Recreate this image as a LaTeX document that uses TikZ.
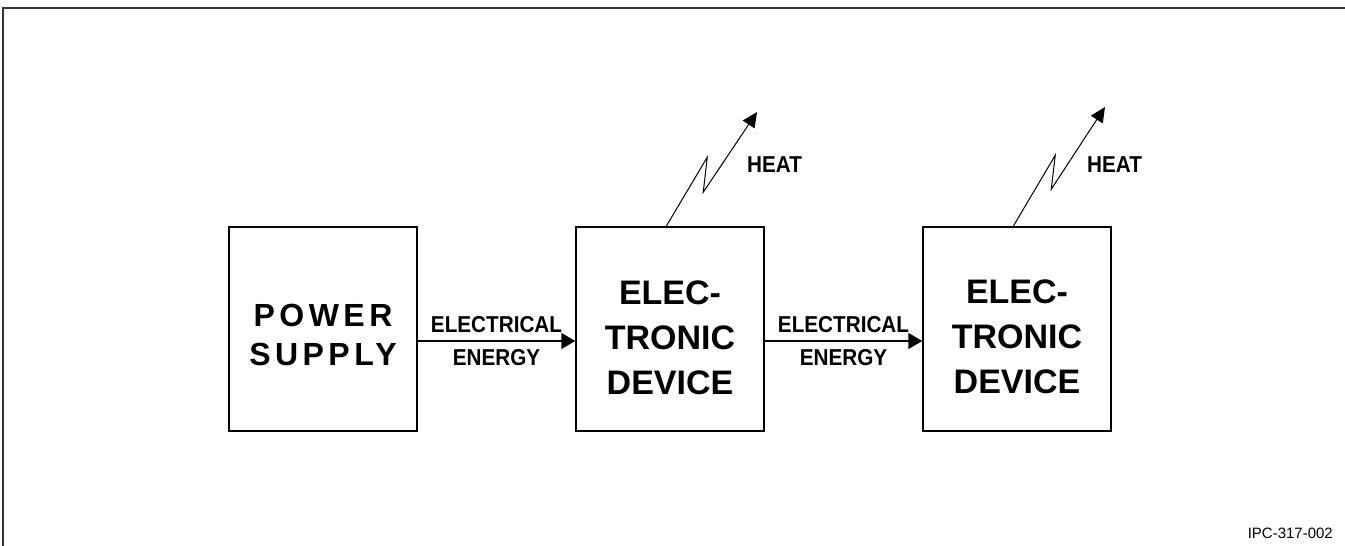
\documentclass[tikz,border=0pt]{standalone}
\usepackage{fontspec}
\setmainfont{Liberation Sans}
\newfontfamily\narrowsf[FakeStretch=0.9]{Liberation Sans}
\newfontfamily\spacedsf[LetterSpace=14]{Liberation Sans}
\usetikzlibrary{arrows.meta,positioning,calc}

\begin{document}
\begin{tikzpicture}[x=1pt,y=-1pt,
  blk/.style={draw,line width=1.5pt,minimum width=188pt,minimum height=204pt,inner sep=0pt},
  blktext/.style={align=center,inner sep=0pt,font=\bfseries\fontsize{34}{45}\selectfont},
  flow/.style={line width=1.5pt,-{Triangle[length=14pt,width=16pt]}},
  heat/.style={line width=1pt,-{Triangle[length=15pt,width=14pt]}},
  elabel/.style={align=center,inner sep=0pt,font=\narrowsf\bfseries\fontsize{23}{33}\selectfont},
  hlabel/.style={anchor=base west,inner sep=0pt,font=\narrowsf\bfseries\fontsize{23}{28}\selectfont}]
\path[use as bounding box] (0,0) rectangle (1345,546);
\begin{scope}
\clip (0,0) rectangle (1345,546);
\draw[black!80,line width=1.5pt] (3,560) -- (3,8) -- (1360,8);
\end{scope}

% blocks
\node[blk] (ps) at (323,329) {};
\node[blk] (ed1) at (670,329) {};
\node[blk] (ed2) at (1017,329) {};
\node[blktext,font=\spacedsf\bfseries\fontsize{32}{39}\selectfont] (pstext) at ([yshift=-6pt]ps.center) {POWER\\SUPPLY};
\node[blktext] (ed1text) at ([yshift=-9pt]ed1.center) {ELEC-\\TRONIC\\DEVICE};
\node[blktext] (ed2text) at ([yshift=-8pt]ed2.center) {ELEC-\\TRONIC\\DEVICE};

% energy flow
\draw[flow] ([yshift=-12pt]ps.east) -- node[elabel] (el1) {ELECTRICAL\\ENERGY} ([yshift=-12pt]ed1.west);
\draw[flow] ([yshift=-12pt]ed1.east) -- node[elabel] (el2) {ELECTRICAL\\ENERGY} ([yshift=-12pt]ed2.west);

% heat
\coordinate (h1) at ([xshift=91pt]ed1.north west);
\coordinate (t1) at (757,112);
\draw[heat] (h1) -- ++(41,-69) -- ++(-4,35) -- (t1);
\node[hlabel] (heat1) at (747,172) {HEAT};
\coordinate (h2) at ([xshift=91pt]ed2.north west);
\coordinate (t2) at (1105,107);
\draw[heat] (h2) -- ++(42,-71) -- ++(-4,34) -- (t2);
\node[hlabel] (heat2) at (1087,172) {HEAT};

\node[anchor=base east,inner sep=0pt,font=\fontsize{15}{18}\selectfont] (ref) at (1333,538) {IPC-317-002};
\end{tikzpicture}
\end{document}
